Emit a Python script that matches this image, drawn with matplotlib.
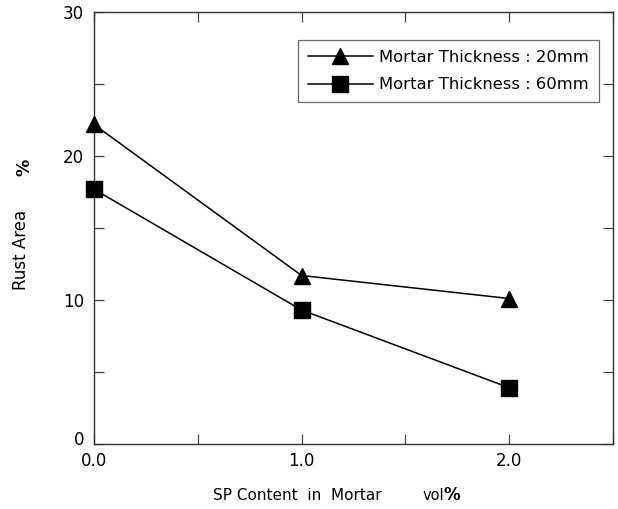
import matplotlib
matplotlib.use("Agg")
import matplotlib.pyplot as plt
from matplotlib.ticker import MultipleLocator
import matplotlib.transforms as mtransforms

plt.rcParams['font.family'] = ['DejaVu Sans']

sp_content = [0.0, 1.0, 2.0]
rust_20mm = [22.2, 11.7, 10.1]
rust_60mm = [17.7, 9.3, 3.9]
labels = ["Mortar Thickness : 20mm", "Mortar Thickness : 60mm"]
xticks = [0.0, 1.0, 2.0]
xticklabels = ["0.0", "1.0", "2.0"]
yticks = [0, 10, 20, 30]

fig = plt.figure(figsize=(6.18, 5.09), dpi=100)
ax = fig.add_axes([0.152, 0.128, 0.840, 0.848])

ax.plot(sp_content, rust_20mm, color='black', lw=1.1, marker='^', ms=11, label=labels[0], clip_on=False, zorder=3)
ax.plot(sp_content, rust_60mm, color='black', lw=1.1, marker='s', ms=12, label=labels[1], clip_on=False, zorder=3)

ax.set_xlim(0, 2.5)
ax.set_ylim(0, 30)
ax.set_xticks(xticks)
ax.set_xticklabels(xticklabels)
ax.set_yticks(yticks)
ax.xaxis.set_minor_locator(MultipleLocator(0.5))
ax.yaxis.set_minor_locator(MultipleLocator(5))
ax.tick_params(which='both', direction='in', top=True, right=True, length=7, width=0.9,
               color='#444444', labelsize=12, labeltop=False, labelright=False)
ax.tick_params(axis='x', pad=6)
ax.tick_params(axis='y', pad=7)
for s in ax.spines.values():
    s.set_linewidth(1.0)
    s.set_color('#333333')

# the "0" y label sits a little above its tick in the reference
ylab0 = ax.get_yticklabels()[0]
ylab0.set_transform(ylab0.get_transform() + mtransforms.ScaledTranslation(0, 6/100, fig.dpi_scale_trans))

leg = ax.legend(loc='upper right', bbox_to_anchor=(0.972, 0.935), fontsize=11.8, frameon=True,
                fancybox=False, edgecolor='#444444', handlelength=4.0, borderpad=0.6,
                labelspacing=0.75, handletextpad=0.35, borderaxespad=0)
leg.get_frame().set_linewidth(0.9)

# axis labels with bold percent signs
fig.text(0.345, 0.018, "SP Content  in  Mortar", fontsize=11, ha='left', va='baseline')
fig.text(0.683, 0.018, "vol", fontsize=10.5, ha='left', va='baseline')
fig.text(0.718, 0.018, "%", fontsize=12, ha='left', va='baseline', fontweight='bold')

fig.text(0.034, 0.508, "Rust Area", fontsize=12, rotation=90, ha='center', va='center')
fig.text(0.040, 0.672, "%", fontsize=12.5, rotation=90, ha='center', va='center', fontweight='bold')

fig.savefig("out.png", dpi=100)
